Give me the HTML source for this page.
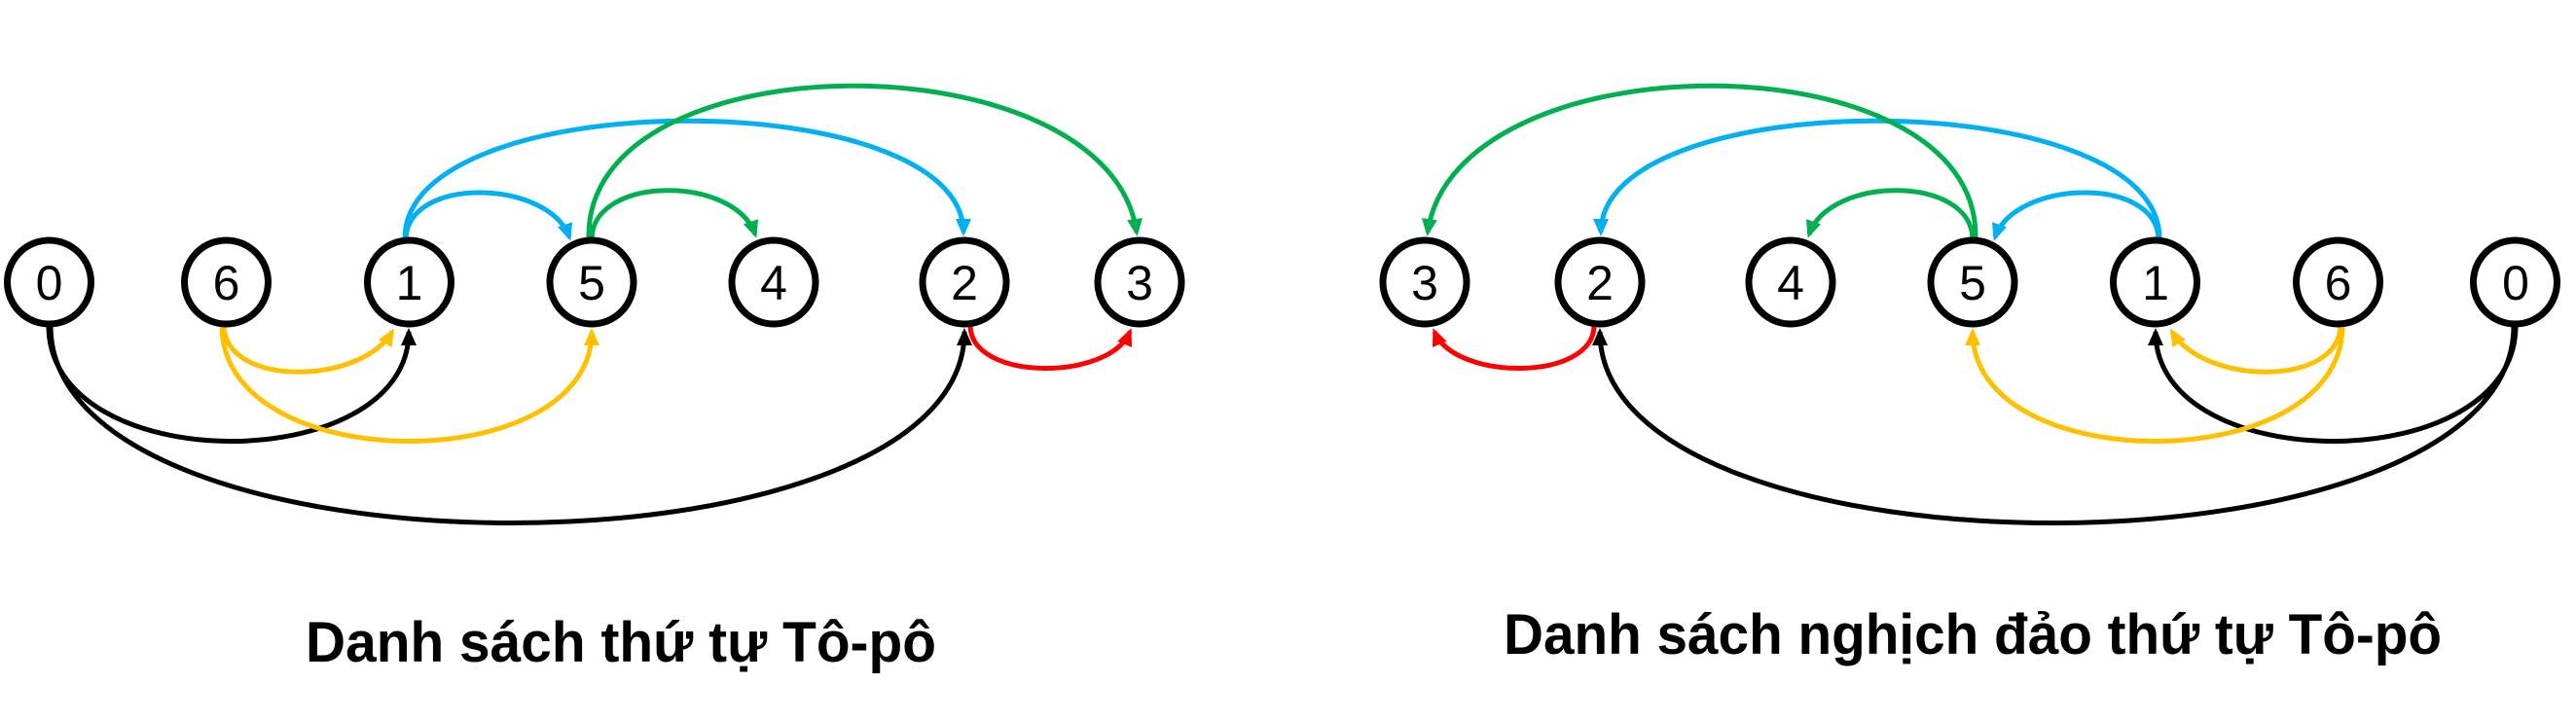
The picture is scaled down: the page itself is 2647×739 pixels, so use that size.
<!DOCTYPE html>
<html>
<head>
<meta charset="utf-8">
<style>
  html, body { margin: 0; padding: 0; background: #ffffff; }
  svg { display: block; }
  .d { font-family: "Liberation Sans", "DejaVu Sans", sans-serif; font-size: 50px; fill: #000; }
  .t { font-family: "Liberation Sans", "DejaVu Sans", sans-serif; font-size: 58px; font-weight: bold; fill: #000; }
</style>
</head>
<body>
<svg width="2647" height="739" viewBox="0 0 2647 739" xmlns="http://www.w3.org/2000/svg">
  <defs>
    <marker id="mB" markerUnits="userSpaceOnUse" markerWidth="18" markerHeight="16" viewBox="0 0 18 16" refX="14" refY="8" orient="auto">
      <path d="M0,0 L18,8 L0,16 z" fill="#00B0F0"/>
    </marker>
    <marker id="mG" markerUnits="userSpaceOnUse" markerWidth="18" markerHeight="16" viewBox="0 0 18 16" refX="14" refY="8" orient="auto">
      <path d="M0,0 L18,8 L0,16 z" fill="#00B050"/>
    </marker>
    <marker id="mY" markerUnits="userSpaceOnUse" markerWidth="18" markerHeight="16" viewBox="0 0 18 16" refX="14" refY="8" orient="auto">
      <path d="M0,0 L18,8 L0,16 z" fill="#FFC000"/>
    </marker>
    <marker id="mK" markerUnits="userSpaceOnUse" markerWidth="18" markerHeight="16" viewBox="0 0 18 16" refX="14" refY="8" orient="auto">
      <path d="M0,0 L18,8 L0,16 z" fill="#000000"/>
    </marker>
    <marker id="mR" markerUnits="userSpaceOnUse" markerWidth="18" markerHeight="16" viewBox="0 0 18 16" refX="14" refY="8" orient="auto">
      <path d="M0,0 L18,8 L0,16 z" fill="#FF0000"/>
    </marker>

    <g id="diagram">
      <g fill="none" stroke-width="5">
        <!-- top edges -->
        <path d="M417,245 C420,180 565,185 585,244" stroke="#00B0F0" marker-end="url(#mB)"/>
        <path d="M416,245 C416,85 990,85 990,239" stroke="#00B0F0" marker-end="url(#mB)"/>
        <path d="M608,245 C610,180 755,180 776,241" stroke="#00B050" marker-end="url(#mG)"/>
        <path d="M605,245 C600,37 1140,37 1168,239" stroke="#00B050" marker-end="url(#mG)"/>
        <!-- bottom edges -->
        <path d="M230,335 C232,398 370,396 403,341" stroke="#FFC000" marker-end="url(#mY)"/>
        <path d="M50,335 C50,492 420,492 420,341" stroke="#000000" marker-end="url(#mK)"/>
        <path d="M228,335 C228,492 608,492 608,341" stroke="#FFC000" marker-end="url(#mY)"/>
        <path d="M52,335 C52,604 991,604 991,341" stroke="#000000" marker-end="url(#mK)"/>
        <path d="M997,335 C998,392 1140,392 1161,341" stroke="#FF0000" marker-end="url(#mR)"/>
      </g>
      <g fill="#ffffff" stroke="#000000" stroke-width="7">
        <circle cx="50.5" cy="290" r="43"/>
        <circle cx="232.5" cy="290" r="43"/>
        <circle cx="420.5" cy="290" r="43"/>
        <circle cx="608" cy="290" r="43"/>
        <circle cx="795" cy="290" r="43"/>
        <circle cx="991" cy="290" r="43"/>
        <circle cx="1171" cy="290" r="43"/>
      </g>
    </g>
  </defs>

  <rect x="0" y="0" width="2647" height="739" fill="#ffffff"/>

  <!-- Left diagram -->
  <use href="#diagram"/>
  <g class="d" text-anchor="middle">
    <text x="50.5" y="308">0</text>
    <text x="232.5" y="308">6</text>
    <text x="420.5" y="308">1</text>
    <text x="608" y="308">5</text>
    <text x="795" y="308">4</text>
    <text x="991" y="308">2</text>
    <text x="1171" y="308">3</text>
  </g>

  <!-- Right diagram (mirrored) -->
  <g transform="translate(2635,0) scale(-1,1)">
    <use href="#diagram"/>
  </g>
  <g class="d" text-anchor="middle">
    <text x="1464" y="308">3</text>
    <text x="1644" y="308">2</text>
    <text x="1840" y="308">4</text>
    <text x="2027" y="308">5</text>
    <text x="2215" y="308">1</text>
    <text x="2402.5" y="308">6</text>
    <text x="2585" y="308">0</text>
  </g>

  <!-- Titles -->
  <text class="t" x="314" y="680" textLength="648" lengthAdjust="spacingAndGlyphs">Danh sách thứ tự Tô-pô</text>
  <text class="t" x="1545" y="672" textLength="964" lengthAdjust="spacingAndGlyphs">Danh sách nghịch đảo thứ tự Tô-pô</text>
</svg>
</body>
</html>
